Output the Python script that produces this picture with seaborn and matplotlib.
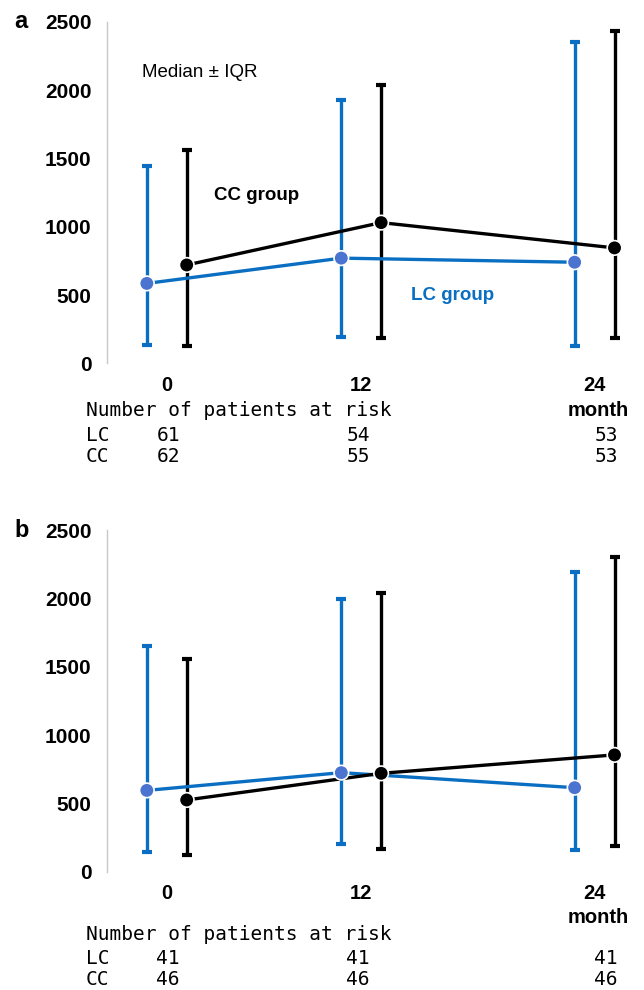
import pandas as pd
import seaborn as sns
import matplotlib.pyplot as plt

# months and the medians / quartiles
months = [0, 12, 24]

lc_a_med = [585, 770, 740]
lc_a_q1 = [135, 195, 130]
lc_a_q3 = [1445, 1930, 2350]
cc_a_med = [720, 1030, 845]
cc_a_q1 = [125, 185, 185]
cc_a_q3 = [1560, 2035, 2435]

lc_b_med = [595, 725, 615]
lc_b_q1 = [145, 200, 160]
lc_b_q3 = [1655, 1995, 2190]
cc_b_med = [525, 720, 855]
cc_b_q1 = [120, 165, 185]
cc_b_q3 = [1555, 2040, 2305]

# number of patients at risk
risk_a_lc = [61, 54, 53]
risk_a_cc = [62, 55, 53]
risk_b_lc = [41, 41, 41]
risk_b_cc = [46, 46, 46]

# layout: where each month sits on the drawing axis, and group offset
slot = {0: 0.0, 12: 12.0, 24: 26.4}
shift = {"LC": -1.23, "CC": 1.23}

line_col = {"LC": "#0a6fc2", "CC": "black"}
mark_col = {"LC": "#4a74cf", "CC": "black"}

sns.set_theme(style="white")
plt.rcParams["font.family"] = ["Liberation Sans", "DejaVu Sans"]
plt.rcParams["text.color"] = "black"
plt.rcParams["xtick.labelcolor"] = "black"
plt.rcParams["ytick.labelcolor"] = "black"

fig = plt.figure(figsize=(6.44, 9.9), dpi=100)
ax_a = fig.add_axes([0.1661, 0.633, 0.8276, 0.345])
ax_b = fig.add_axes([0.1661, 0.1195, 0.8276, 0.345])


def make_frame(lc_med, lc_q1, lc_q3, cc_med, cc_q1, cc_q3):
    rows = []
    for grp, med, q1, q3 in [("LC", lc_med, lc_q1, lc_q3), ("CC", cc_med, cc_q1, cc_q3)]:
        for m, md, lo, hi in zip(months, med, q1, q3):
            rows.append({"group": grp, "month": m, "x": slot[m] + shift[grp],
                         "median": md, "q1": lo, "q3": hi})
    return pd.DataFrame(rows)


def draw_panel(ax, df, risk_lc, risk_cc, letter, rows_y):
    for grp in ["LC", "CC"]:
        d = df[df["group"] == grp]
        ax.errorbar(d["x"], d["median"],
                    yerr=[d["median"] - d["q1"], d["q3"] - d["median"]],
                    fmt="none", ecolor=line_col[grp], elinewidth=2.4,
                    capsize=3.5, capthick=3, zorder=2)
    sns.lineplot(data=df, x="x", y="median", hue="group", palette=line_col,
                 linewidth=2.4, legend=False, ax=ax, zorder=3, sort=True)
    sns.scatterplot(data=df, x="x", y="median", hue="group", palette=mark_col,
                    s=110, edgecolor="white", linewidth=1.2, legend=False,
                    ax=ax, zorder=4)

    ax.set_xlim(-3.69, 29.2)
    ax.set_ylim(0, 2500)
    ax.set_yticks([0, 500, 1000, 1500, 2000, 2500])
    ax.set_xticks([slot[m] for m in months])
    ax.set_xticklabels([str(m) for m in months])
    ax.tick_params(axis="y", length=0, pad=11, labelsize=15)
    ax.tick_params(axis="x", length=0, pad=9, labelsize=14.5)
    for lab in ax.get_xticklabels() + ax.get_yticklabels():
        lab.set_fontweight("bold")
    ax.set_xlabel("")
    ax.set_ylabel("")
    for s in ["top", "right", "bottom"]:
        ax.spines[s].set_visible(False)
    ax.spines["left"].set_color("#c8c8c8")
    ax.spines["left"].set_linewidth(1.0)

    tr = ax.get_xaxis_transform()
    ax.text(slot[24] + 0.2, rows_y[0], "month", transform=tr, ha="center",
            va="center", fontsize=14.5, fontweight="bold")
    mono = dict(family="DejaVu Sans Mono", fontsize=14, va="center",
                transform=tr, clip_on=False)
    ax.text(-4.98, rows_y[1], "Number of patients at risk", ha="left", **mono)
    count_x = [0.08, 11.8, 27.1]
    ax.text(-4.98, rows_y[2], "LC", ha="left", **mono)
    ax.text(-4.98, rows_y[3], "CC", ha="left", **mono)
    for cx, nl, nc in zip(count_x, risk_lc, risk_cc):
        ax.text(cx, rows_y[2], str(nl), ha="center", **mono)
        ax.text(cx, rows_y[3], str(nc), ha="center", **mono)

    ax.text(-0.161, 1.0, letter, transform=ax.transAxes, ha="center",
            va="center", fontsize=17, fontweight="bold")


df_a = make_frame(lc_a_med, lc_a_q1, lc_a_q3, cc_a_med, cc_a_q1, cc_a_q3)
df_b = make_frame(lc_b_med, lc_b_q1, lc_b_q3, cc_b_med, cc_b_q1, cc_b_q3)

draw_panel(ax_a, df_a, risk_a_lc, risk_a_cc, "a", [-0.137, -0.137, -0.21, -0.274])
draw_panel(ax_b, df_b, risk_b_lc, risk_b_cc, "b", [-0.135, -0.185, -0.255, -0.317])

ax_a.text(-1.52, 2131, "Median \u00b1 IQR", ha="left", va="center", fontsize=13.5)
ax_a.text(2.93, 1231, "CC group", ha="left", va="center", fontsize=13.5,
          fontweight="bold", color="black")
ax_a.text(15.1, 499, "LC group", ha="left", va="center", fontsize=13.5,
          fontweight="bold", color=line_col["LC"])

fig.savefig("out.png", dpi=100)
